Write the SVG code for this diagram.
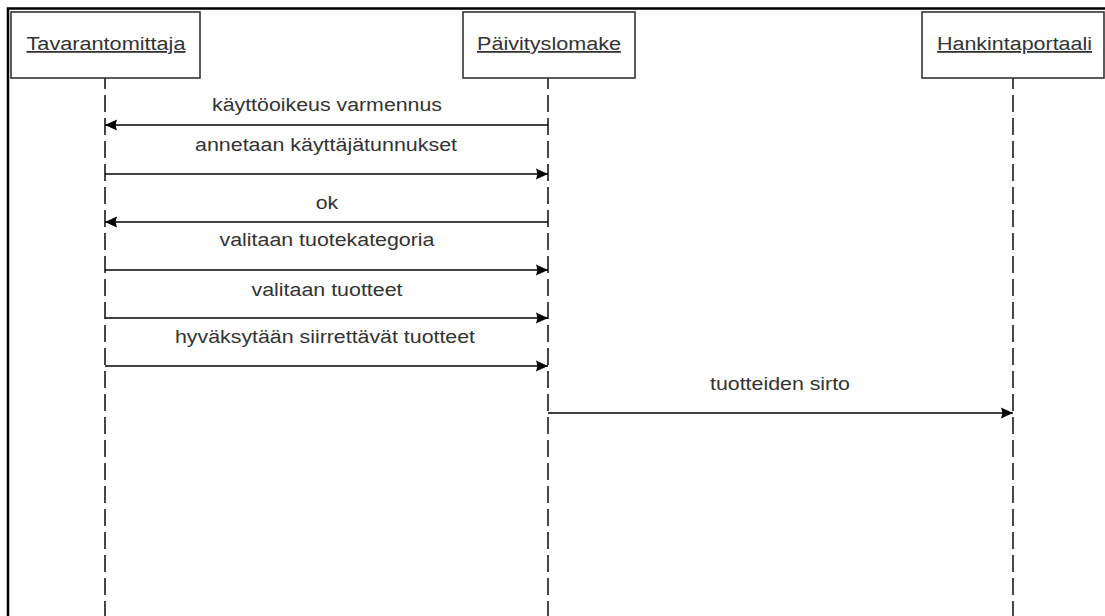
<svg xmlns="http://www.w3.org/2000/svg" width="1105" height="616" viewBox="0 0 1105 616">
  <style>
    .frame { fill: none; stroke: #000; stroke-width: 2.5; }
    .box { fill: #fff; stroke: #333; stroke-width: 1.6; }
    .title { font-family: "Liberation Sans", Arial, sans-serif; font-size: 18px; fill: #333; text-anchor: middle; text-decoration: underline; }
    .life { stroke: #333; stroke-width: 1.8; stroke-dasharray: 17 6; stroke-dashoffset: 6; fill: none; }
    .msg { stroke: #000; stroke-width: 1.6; fill: none; marker-end: url(#head); }
    .label { font-family: "Liberation Sans", Arial, sans-serif; font-size: 18px; fill: #333; text-anchor: middle; }
  </style>
  <defs>
    <marker id="head" markerUnits="userSpaceOnUse" markerWidth="13" markerHeight="13" refX="12" refY="6" orient="auto">
      <path d="M0,0.5 L12,6 L0,11.5 L1.5,6 z" fill="#000"/>
    </marker>
  </defs>

  <rect width="1105" height="616" fill="#fff"/>
  <!-- outer frame: top and left edges -->
  <path class="frame" d="M8,616 V8.5 H1105"/>

  <!-- lifelines -->
  <g id="lifelines">
    <line class="life" x1="105" y1="78" x2="105" y2="616"/>
    <line class="life" x1="548" y1="78" x2="548" y2="616"/>
    <line class="life" x1="1013" y1="78" x2="1013" y2="616"/>
  </g>

  <!-- participants -->
  <g id="tavarantomittaja">
    <rect class="box" x="11" y="12" width="189" height="66"/>
    <text class="title" x="106" y="50" textLength="159" lengthAdjust="spacingAndGlyphs">Tavarantomittaja</text>
  </g>
  <g id="paivityslomake">
    <rect class="box" x="463" y="12" width="172" height="66"/>
    <text class="title" x="549" y="50" textLength="144" lengthAdjust="spacingAndGlyphs">Päivityslomake</text>
  </g>
  <g id="hankintaportaali">
    <rect class="box" x="922" y="12" width="182" height="66"/>
    <text class="title" x="1014.5" y="50" textLength="155" lengthAdjust="spacingAndGlyphs">Hankintaportaali</text>
  </g>

  <!-- messages -->
  <g id="connectors">
    <line class="msg" x1="548" y1="125" x2="105" y2="125"/>
    <line class="msg" x1="105" y1="174" x2="548" y2="174"/>
    <line class="msg" x1="548" y1="222" x2="105" y2="222"/>
    <line class="msg" x1="105" y1="270" x2="548" y2="270"/>
    <line class="msg" x1="105" y1="318" x2="548" y2="318"/>
    <line class="msg" x1="105" y1="366" x2="548" y2="366"/>
    <line class="msg" x1="548" y1="413" x2="1013" y2="413"/>
  </g>

  <g id="labels">
    <text class="label" x="327" y="111" textLength="230" lengthAdjust="spacingAndGlyphs">käyttöoikeus varmennus</text>
    <text class="label" x="326" y="151" textLength="262" lengthAdjust="spacingAndGlyphs">annetaan käyttäjätunnukset</text>
    <text class="label" x="327" y="209" textLength="22.5" lengthAdjust="spacingAndGlyphs">ok</text>
    <text class="label" x="327" y="246" textLength="215" lengthAdjust="spacingAndGlyphs">valitaan tuotekategoria</text>
    <text class="label" x="327" y="296" textLength="151" lengthAdjust="spacingAndGlyphs">valitaan tuotteet</text>
    <text class="label" x="325" y="343" textLength="300" lengthAdjust="spacingAndGlyphs">hyväksytään siirrettävät tuotteet</text>
    <text class="label" x="780" y="390" textLength="140" lengthAdjust="spacingAndGlyphs">tuotteiden sirto</text>
  </g>
</svg>
